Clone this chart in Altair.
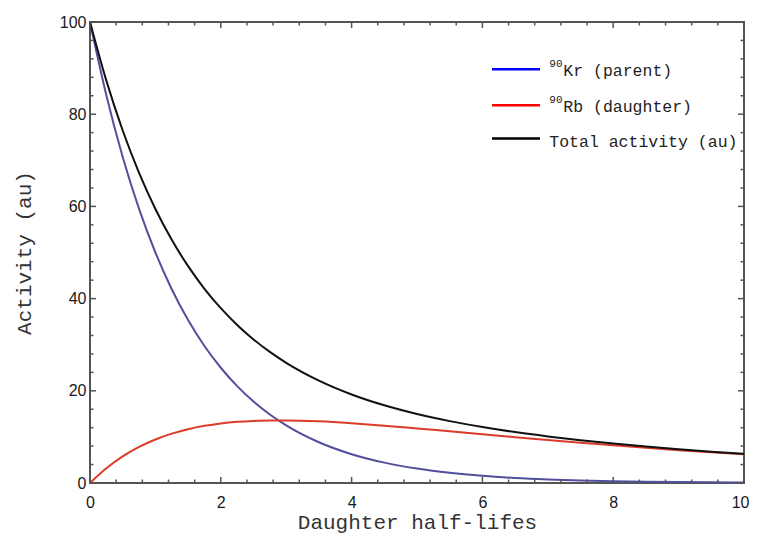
import altair as alt
import pandas as pd

# ---- data ----
x_vals = [0, 0.25, 0.5, 0.75, 1, 1.25, 1.5, 1.75, 2, 2.25, 2.5, 2.75, 3,
          3.5, 4, 4.5, 5, 5.5, 6, 6.5, 7, 7.5, 8, 8.5, 9, 9.5, 10]
parent = [100, 84.09, 70.71, 59.46, 50.0, 42.04, 35.36, 29.73, 25.0, 21.02,
          17.68, 14.87, 12.5, 8.84, 6.25, 4.42, 3.13, 2.21, 1.56, 1.10, 0.78,
          0.55, 0.39, 0.28, 0.20, 0.14, 0.10]
daughter = [0, 3.19, 5.76, 7.82, 9.44, 10.71, 11.68, 12.40, 12.92, 13.27,
            13.47, 13.57, 13.57, 13.37, 12.96, 12.44, 11.84, 11.21, 10.58,
            9.94, 9.33, 8.74, 8.17, 7.64, 7.13, 6.65, 6.21]
total = [100, 87.28, 76.47, 67.28, 59.44, 52.75, 47.04, 42.13, 37.92, 34.29,
         31.15, 28.44, 26.07, 22.21, 19.21, 16.86, 14.97, 13.42, 12.14, 11.04,
         10.11, 9.29, 8.56, 7.92, 7.33, 6.79, 6.31]

series = ["parent", "daughter", "total"]
legend_sup = ["90", "90", ""]
legend_main = ["Kr (parent)", "Rb (daughter)", "Total activity (au)"]

x_major = [0, 2, 4, 6, 8, 10]
x_minor = [0.4, 0.8, 1.2, 1.6, 2.4, 2.8, 3.2, 3.6, 4.4, 4.8, 5.2, 5.6,
           6.4, 6.8, 7.2, 7.6, 8.4, 8.8, 9.2, 9.6]
y_major = [0, 20, 40, 60, 80, 100]
y_minor = [4, 8, 12, 16, 24, 28, 32, 36, 44, 48, 52, 56, 64, 68, 72, 76,
           84, 88, 92, 96]

x_title = "Daughter half-lifes"
y_title = "Activity (au)"

# ---- layout / style ----
W, H = 654, 461
frame = "#555555"
line_colors = ["#524f9c", "#dc3b28", "#111111"]
swatch_colors = ["#0000ff", "#ff0000", "#000000"]
mono = "Liberation Mono"
sans = "Liberation Sans"

rows = []
for s, vals in zip(series, [parent, daughter, total]):
    for xv, yv in zip(x_vals, vals):
        rows.append({"x": xv, "y": yv, "series": s})
df = pd.DataFrame(rows)

xscale = alt.Scale(domain=[0, 10], nice=False, zero=False)
yscale = alt.Scale(domain=[0, 100], nice=False)

last_x = x_major[-1]
xaxis = alt.Axis(
    values=x_major, ticks=False, domain=False, grid=False, title=x_title,
    labelFont=sans, labelFontSize=16, labelColor="#1a1a1a", labelPadding=11,
    labelFlush=False,
    labelAlign={"condition": {"test": f"datum.value == {last_x}", "value": "right"},
                "value": "center"},
    labelOffset={"condition": {"test": f"datum.value == {last_x}", "value": 5},
                 "value": 0},
    titleFont=mono, titleFontSize=21, titleFontWeight="normal",
    titleColor="#333333", titlePadding=1)
yaxis = alt.Axis(
    values=y_major, ticks=False, domain=False, grid=False, title=y_title,
    labelFont=sans, labelFontSize=16, labelColor="#1a1a1a", labelPadding=4,
    labelFlush=False,
    titleFont=mono, titleFontSize=21, titleFontWeight="normal",
    titleColor="#333333", titlePadding=25)

lines = alt.Chart(df).mark_line(strokeWidth=2, interpolate="monotone").encode(
    x=alt.X("x:Q", scale=xscale, axis=xaxis),
    y=alt.Y("y:Q", scale=yscale, axis=yaxis),
    color=alt.Color("series:N", scale=alt.Scale(domain=series, range=line_colors),
                    legend=None),
    order=alt.Order("x:Q"),
)


def xticks(vals, length):
    d = pd.DataFrame({"x": vals})
    bottom = alt.Chart(d).mark_rule(color=frame, strokeWidth=1.5).encode(
        x=alt.X("x:Q", scale=xscale, axis=xaxis),
        y=alt.value(H), y2=alt.value(H - length))
    top = alt.Chart(d).mark_rule(color=frame, strokeWidth=1.5).encode(
        x=alt.X("x:Q", scale=xscale, axis=xaxis),
        y=alt.value(0), y2=alt.value(length))
    return [bottom, top]


def yticks(vals, length):
    d = pd.DataFrame({"y": vals})
    left = alt.Chart(d).mark_rule(color=frame, strokeWidth=1.5).encode(
        y=alt.Y("y:Q", scale=yscale, axis=yaxis),
        x=alt.value(0), x2=alt.value(length))
    right = alt.Chart(d).mark_rule(color=frame, strokeWidth=1.5).encode(
        y=alt.Y("y:Q", scale=yscale, axis=yaxis),
        x=alt.value(W), x2=alt.value(W - length))
    return [left, right]


tick_layers = (xticks(x_major, 6) + xticks(x_minor, 3.5)
               + yticks(y_major, 6) + yticks(y_minor, 3.5))

# ---- legend drawn by hand ----
swatch_y = [47.3, 83.3, 116.5]
text_base = [53.5, 89.7, 124.7]
legend_layers = []
for i in range(3):
    d = pd.DataFrame({"label": [legend_main[i]], "sup": [legend_sup[i]]})
    legend_layers.append(alt.Chart(d).mark_rule(
        color=swatch_colors[i], strokeWidth=2.5).encode(
        x=alt.value(402), x2=alt.value(450), y=alt.value(swatch_y[i])))
    main_x = 459.3
    if legend_sup[i]:
        legend_layers.append(alt.Chart(d).mark_text(
            font=mono, fontSize=11, color="#222222", align="left",
            baseline="alphabetic").encode(
            x=alt.value(459.3), y=alt.value(text_base[i] - 8.5),
            text="sup:N"))
        main_x = 473.3
    legend_layers.append(alt.Chart(d).mark_text(
        font=mono, fontSize=16.5, color="#222222", align="left",
        baseline="alphabetic").encode(
        x=alt.value(main_x), y=alt.value(text_base[i]), text="label:N"))

chart = alt.layer(lines, *tick_layers, *legend_layers).properties(
    width=W, height=H,
    padding={"left": 82, "top": 14, "right": 5, "bottom": 50},
    autosize=alt.AutoSizeParams(type="none"),
    background="white",
).configure_view(stroke=frame, strokeWidth=2)

chart.save("out.html", embed_options={"renderer": "svg", "actions": False})
